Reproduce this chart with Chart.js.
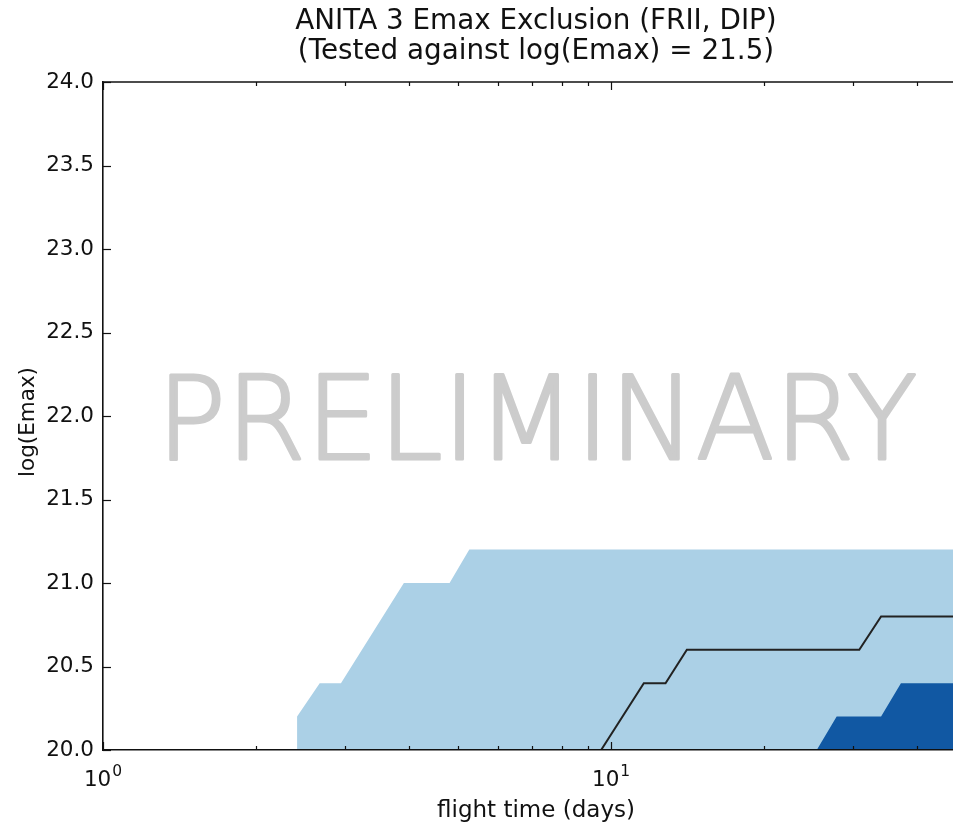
<!DOCTYPE html>
<html>
<head>
<meta charset="utf-8">
<style>
  html, body { margin: 0; padding: 0; background: #ffffff; overflow: hidden; }
  canvas { display: block; }
</style>
<script src="https://cdn.jsdelivr.net/npm/chart.js@4.4.1/dist/chart.umd.min.js"></script>
</head>
<body>
<canvas id="chart" width="953" height="822"></canvas>
<script>
// Text
const chartTitle = ['ANITA 3 Emax Exclusion (FRII, DIP)', '(Tested against log(Emax) = 21.5)'];
const xAxisTitle = 'flight time (days)';
const yAxisTitle = 'log(Emax)';
const watermark = 'PRELIMINARY';

// Broad exclusion region (light band): outline of its upper edge
const broadDays = [2.41, 2.41, 2.67, 2.94, 3.91, 4.81, 5.26, 50];
const broadEmax = [20.0, 20.2, 20.4, 20.4, 21.0, 21.0, 21.2, 21.2];

// Strong exclusion region (dark band)
const strongDays = [25.4, 27.8, 34.0, 37.2, 50];
const strongEmax = [20.0, 20.2, 20.2, 20.4, 20.4];

// Contour line
const contourDays = [9.56, 11.6, 12.8, 14.1, 30.8, 34.0, 50];
const contourEmax = [20.0, 20.4, 20.4, 20.6, 20.6, 20.8, 20.8];

// Axes
const xRange = [1, 47.1];
const yRange = [20, 24];
const yTickValues = [20.0, 20.5, 21.0, 21.5, 22.0, 22.5, 23.0, 23.5, 24.0];
const xMajorTicks = [1, 10];
const xMajorBase = ['10', '10'];
const xMajorExponent = ['0', '1'];
const xMinorTicks = [2, 3, 4, 5, 6, 7, 8, 9, 20, 30, 40];

const FONT = '"DejaVu Sans", "Liberation Sans", sans-serif';
const INK = '#111111';

function points(xs, ys) {
  return xs.map((x, i) => ({ x: x, y: ys[i] }));
}

// Spines on top, inward ticks, power-of-ten labels, titles and watermark
const decorations = {
  id: 'decorations',
  beforeDatasetsDraw(chart) {
    const ctx = chart.ctx;
    ctx.save();
    ctx.fillStyle = '#cccccc';
    ctx.strokeStyle = '#cccccc';
    ctx.lineWidth = 3;
    ctx.lineJoin = 'round';
    ctx.font = '200 115px "DejaVu Sans ExtraLight", ' + FONT;
    ctx.textAlign = 'center';
    ctx.textBaseline = 'alphabetic';
    ctx.fillText(watermark, 537, 459);
    ctx.strokeText(watermark, 537, 459);
    ctx.restore();
  },
  afterDraw(chart) {
    const ctx = chart.ctx;
    const area = chart.chartArea;
    const xs = chart.scales.x;
    const ys = chart.scales.y;
    ctx.save();
    ctx.strokeStyle = INK;
    ctx.lineWidth = 1.6;
    // top spine
    ctx.beginPath();
    ctx.moveTo(area.left, area.top);
    ctx.lineTo(area.right, area.top);
    ctx.stroke();

    ctx.lineWidth = 1.2;
    const tick = (x0, y0, x1, y1) => {
      ctx.beginPath();
      ctx.moveTo(x0, y0);
      ctx.lineTo(x1, y1);
      ctx.stroke();
    };
    yTickValues.forEach(v => {
      const y = Math.round(ys.getPixelForValue(v)) + 0.5;
      tick(area.left, y, area.left + 8, y);
    });
    xMajorTicks.forEach(v => {
      const x = Math.round(xs.getPixelForValue(v)) + 0.5;
      tick(x, area.bottom, x, area.bottom - 8);
      tick(x, area.top, x, area.top + 8);
    });
    xMinorTicks.forEach(v => {
      const x = Math.round(xs.getPixelForValue(v)) + 0.5;
      tick(x, area.bottom, x, area.bottom - 4);
      tick(x, area.top, x, area.top + 4);
    });

    ctx.fillStyle = INK;
    ctx.textBaseline = 'alphabetic';

    // power-of-ten labels under the major ticks
    const baseFont = '21.5px ' + FONT;
    const expFont = '15.5px ' + FONT;
    xMajorTicks.forEach((v, i) => {
      ctx.font = baseFont;
      const wb = ctx.measureText(xMajorBase[i]).width;
      ctx.font = expFont;
      const we = ctx.measureText(xMajorExponent[i]).width;
      const x0 = xs.getPixelForValue(v) - (wb + we + 1) / 2;
      ctx.textAlign = 'left';
      ctx.font = baseFont;
      ctx.fillText(xMajorBase[i], x0, area.bottom + 36);
      ctx.font = expFont;
      ctx.fillText(xMajorExponent[i], x0 + wb + 1, area.bottom + 26);
    });

    ctx.textAlign = 'center';
    ctx.font = '27.8px ' + FONT;
    ctx.fillText(chartTitle[0], 536, 29);
    ctx.fillText(chartTitle[1], 536, 59);

    ctx.font = '23px ' + FONT;
    ctx.fillText(xAxisTitle, 536, 817);

    ctx.font = '21.5px ' + FONT;
    ctx.translate(34, 422);
    ctx.rotate(-Math.PI / 2);
    ctx.fillText(yAxisTitle, 0, 0);
    ctx.restore();
  }
};

new Chart(document.getElementById('chart'), {
  type: 'scatter',
  data: {
    datasets: [
      {
        label: 'broad',
        data: points(broadDays, broadEmax),
        showLine: true,
        fill: 'start',
        backgroundColor: '#abd0e6',
        borderWidth: 0,
        pointRadius: 0,
        tension: 0,
        order: 3
      },
      {
        label: 'strong',
        data: points(strongDays, strongEmax),
        showLine: true,
        fill: 'start',
        backgroundColor: '#1158a3',
        borderWidth: 0,
        pointRadius: 0,
        tension: 0,
        order: 2
      },
      {
        label: 'contour',
        data: points(contourDays, contourEmax),
        showLine: true,
        fill: false,
        borderColor: '#222222',
        borderWidth: 2,
        pointRadius: 0,
        tension: 0,
        order: 1
      }
    ]
  },
  options: {
    responsive: false,
    animation: false,
    devicePixelRatio: 1,
    layout: { padding: { top: 82, right: 0, bottom: 0, left: 0 } },
    plugins: {
      legend: { display: false },
      tooltip: { enabled: false },
      title: { display: false }
    },
    scales: {
      x: {
        type: 'logarithmic',
        position: 'bottom',
        min: xRange[0],
        max: xRange[1],
        afterBuildTicks(scale) {
          scale.ticks = xMajorTicks.concat(xMinorTicks)
            .sort((a, b) => a - b)
            .map(v => ({ value: v }));
        },
        afterFit(scale) { scale.height = 72; },
        grid: { display: false, drawTicks: false, tickLength: 0 },
        border: { display: true, color: INK, width: 1.6, z: 1 },
        ticks: {
          display: false,
          autoSkip: false
        }
      },
      y: {
        type: 'linear',
        position: 'left',
        min: yRange[0],
        max: yRange[1],
        afterBuildTicks(scale) {
          scale.ticks = yTickValues.map(v => ({ value: v }));
        },
        afterFit(scale) { scale.width = 103; },
        grid: { display: false, drawTicks: false, tickLength: 0 },
        border: { display: true, color: INK, width: 1.6, z: 1 },
        ticks: {
          padding: 9,
          color: INK,
          font: { family: FONT, size: 21.5 },
          callback(value) { return Number(value).toFixed(1); }
        }
      }
    }
  },
  plugins: [decorations]
});
</script>
</body>
</html>
